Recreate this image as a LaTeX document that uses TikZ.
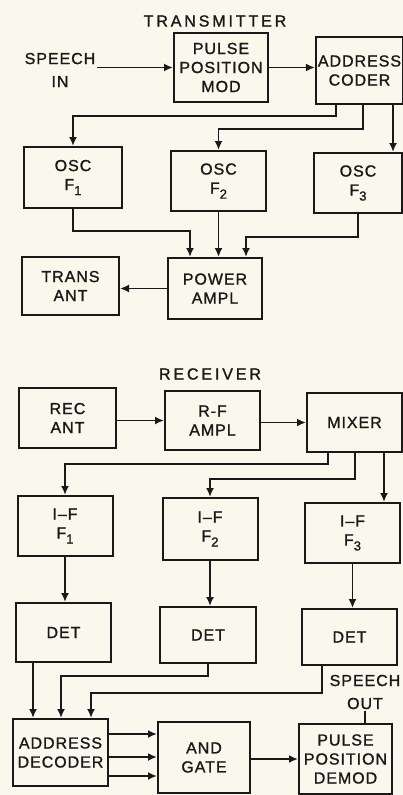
\documentclass[tikz,border=0pt]{standalone}
\usepackage{fontspec}
\setmainfont{Liberation Sans}[LetterSpace=6, FakeBold=1.2]
\newfontfamily\titlefont{Liberation Sans}[LetterSpace=18, FakeBold=1.2]
\usetikzlibrary{arrows.meta}
\definecolor{paper}{RGB}{250,248,236}
\definecolor{ink}{RGB}{25,25,25}
\newcommand{\fsub}[1]{\raisebox{-5pt}{\fontsize{13}{13}\selectfont #1}}

\begin{document}
\begin{tikzpicture}[x=1pt, y=-1pt,
  block/.style={draw=ink, line width=2pt, fill=paper, align=center, inner sep=2pt, text=ink, font=\fontsize{16}{19}\selectfont},
  conn/.style={draw=ink, line width=1.9pt, -{Latex[length=9pt,width=8pt]}},
  wire/.style={draw=ink, line width=1.9pt},
  heading/.style={text=ink, font=\titlefont\fontsize{16}{19}\selectfont},
  sidetext/.style={align=center, text=ink, inner sep=2pt, font=\fontsize{16}{23}\selectfont}]
\useasboundingbox (0,0) rectangle (403,795);
\fill[paper] (0,0) rectangle (403,795);

% Transmitter
\node[heading] (txtitle) at (215,21) {TRANSMITTER};
\node[sidetext] (speechin) at (60,70) {SPEECH\\IN};
\node[block, minimum width=94, minimum height=69] (ppm) at (221,67.5) {PULSE\\POSITION\\MOD};
\node[block, minimum width=84, minimum height=67] (coder) at (359.5,70.5) {ADDRESS\\CODER};

\node[block, minimum width=98, minimum height=61] (osc1) at (73,177.5) {OSC\\F\fsub{1}};
\node[block, minimum width=95, minimum height=60] (osc2) at (218.5,181) {OSC\\F\fsub{2}};
\node[block, minimum width=88, minimum height=60] (osc3) at (358,183) {OSC\\F\fsub{3}};

\node[block, minimum width=97, minimum height=58] (ant) at (70.5,286) {TRANS\\ANT};
\node[block, minimum width=94, minimum height=61] (pa) at (215,288.5) {POWER\\AMPL};

\draw[conn] (speechin.east |- ppm.west) -- (ppm.west);
\draw[conn] (ppm.east) -- (ppm.east -| coder.west);
\draw[conn] ([xshift=-23.5pt]coder.south) -- ++(0,11) -| (osc1.north);
\draw[conn] ([xshift=3.5pt]coder.south) -- ++(0,24) -| (osc2.north);
\draw[conn] ([xshift=33.5pt]coder.south) -- ([xshift=33.5pt]coder.south |- osc3.north);

\draw[conn] (osc1.south) -- ++(0,22) -| ([xshift=-25pt]pa.north);
\draw[conn] (osc2.south) -- (osc2.south |- pa.north);
\draw[conn] (osc3.south) -- ++(0,23) -| ([xshift=31pt]pa.north);
\draw[conn] (pa.west) -- (pa.west -| ant.east);

% Receiver
\node[heading] (rxtitle) at (210,374) {RECEIVER};
\node[block, minimum width=97, minimum height=60] (recant) at (67.5,418) {REC\\ANT};
\node[block, minimum width=95, minimum height=59] (rfa) at (212.5,420.5) {R-F\\AMPL};
\node[block, minimum width=95, minimum height=59] (mixer) at (354.5,422.5) {MIXER};

\foreach \n/\xc/\yc/\h/\d in {1/65/526/60/1, 2/210/529/62/2, 3/352.5/533/60/3} {
    \node[block, minimum width=95, minimum height=\h] (if\n) at (\xc,\yc) {I--F\\F\fsub{\d}};
}
\node[block, minimum width=95, minimum height=59] (det1) at (63.5,632.5) {DET};
\node[block, minimum width=96, minimum height=56] (det2) at (208,635) {DET};
\node[block, minimum width=95, minimum height=56] (det3) at (349.5,637) {DET};

\node[block, minimum width=95, minimum height=67] (dec) at (60.5,752.5) {ADDRESS\\DECODER};
\node[block, minimum width=92, minimum height=71] (andgate) at (204,757.5) {AND\\GATE};
\node[block, minimum width=93, minimum height=70] (demod) at (345.5,759) {PULSE\\POSITION\\DEMOD};
\node[sidetext] (speechout) at (365,692) {SPEECH\\OUT};

\draw[conn] (recant.east |- rfa.west) -- (rfa.west);
\draw[conn] (rfa.east |- mixer.west) -- (mixer.west);
\draw[conn] ([xshift=-26.5pt]mixer.south) -- ++(0,11) -| (if1.north);
\draw[conn] ([xshift=0.5pt]mixer.south) -- ++(0,26) -| (if2.north);
\draw[conn] ([xshift=29.5pt]mixer.south) -- ([xshift=29.5pt]mixer.south |- if3.north);

\draw[conn] (if1.south) -- (if1.south |- det1.north);
\draw[conn] (if2.south) -- (if2.south |- det2.north);
\draw[conn] (if3.south) -- (if3.south |- det3.north);

\draw[conn] ([xshift=-30.5pt]det1.south) -- ([xshift=-30.5pt]det1.south |- dec.north);
\draw[conn] (det2.south) -- ++(0,12) -| ([xshift=0.5pt]dec.north);
\draw[conn] ([xshift=-27.5pt]det3.south) -- ++(0,27) -| ([xshift=30.5pt]dec.north);

\foreach \dy in {18.5,-4.5,-23.5} {
    \draw[conn] ([yshift=\dy pt]dec.east) -- ([yshift=\dy pt]dec.east -| andgate.west);
}
\draw[conn] (andgate.east |- demod.west) -- (demod.west);
\draw[wire] (speechout.south) -- (speechout.south |- demod.north);

\end{tikzpicture}
\end{document}
